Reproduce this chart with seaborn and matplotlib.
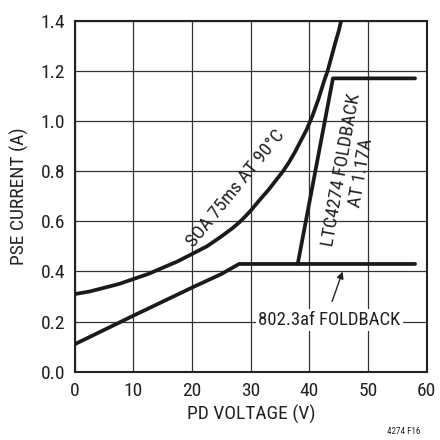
import matplotlib
matplotlib.use("Agg")
import matplotlib.pyplot as plt
import seaborn as sns
import pandas as pd

# ---- data ----
soa_v = [0, 2.5, 5, 7.5, 10, 12.5, 15, 17.5, 20, 22.5, 25, 27, 28, 29, 30, 31.5, 33, 34.5,
         35.5, 36.5, 37.5, 38.5, 39.5, 40.5, 41.5, 42.5, 43.1, 43.8, 44.5, 45.0, 45.4]
soa_i = [0.31, 0.32, 0.335, 0.35, 0.37, 0.39, 0.415, 0.44, 0.47, 0.50, 0.54, 0.575, 0.595,
         0.618, 0.643, 0.685, 0.725, 0.77, 0.80, 0.835, 0.875, 0.92, 0.965, 1.02, 1.085, 1.16,
         1.20, 1.26, 1.32, 1.36, 1.40]
af_v = [0, 5, 10, 15, 20, 25, 28, 58]
af_i = [0.11, 0.167, 0.224, 0.28, 0.336, 0.39, 0.43, 0.43]
ltc_v = [38, 44, 58]
ltc_i = [0.43, 1.17, 1.17]
x_ticks = [0, 10, 20, 30, 40, 50, 60]
y_ticks = [0.0, 0.2, 0.4, 0.6, 0.8, 1.0, 1.2, 1.4]

sns.set_theme(style="white")
plt.rcParams['font.family'] = ['Roboto Condensed', 'Archivo Narrow', 'DejaVu Sans']

fig = plt.figure(figsize=(4.4, 4.4), dpi=100)
ax = fig.add_axes([0.170, 0.155, 0.800, 0.798])

df_soa = pd.DataFrame({"v": soa_v, "i": soa_i})
df_af = pd.DataFrame({"v": af_v, "i": af_i})
df_ltc = pd.DataFrame({"v": ltc_v, "i": ltc_i})
for d in (df_soa, df_af, df_ltc):
    sns.lineplot(data=d, x="v", y="i", ax=ax, color="#1a1a1a", lw=2.7, sort=False, zorder=3)

ax.set_xlim(0, 60)
ax.set_ylim(0, 1.4)
ax.set_xticks(x_ticks)
ax.set_yticks(y_ticks)
ax.set_xticklabels([str(t) for t in x_ticks], fontsize=14)
ax.set_yticklabels([f"{t:.1f}" for t in y_ticks], fontsize=14)
ax.tick_params(length=0, pad=7, colors="#222222")
ax.grid(True, color="#333333", lw=0.9)
for s in ax.spines.values():
    s.set_color("#222222")
    s.set_linewidth(1.5)
ax.set_xlabel("PD VOLTAGE (V)", fontsize=14, color="#222222", labelpad=4)
ax.set_ylabel("PSE CURRENT (A)", fontsize=14, color="#222222", labelpad=8)

ax.text(27.4, 0.73, "SOA 75ms AT 90°C", rotation=51, ha="center", va="center",
        fontsize=13.8, color="#222222", rotation_mode="anchor")
ax.text(47.1, 0.80, "LTC4274 FOLDBACK\nAT 1.17A", rotation=80, ha="center", va="center",
        fontsize=13.8, color="#222222", rotation_mode="anchor", linespacing=1.1)
ax.text(43.4, 0.205, "802.3af FOLDBACK", ha="center", va="center", fontsize=13.5,
        color="#222222", bbox=dict(facecolor="white", edgecolor="none", pad=1.5), zorder=4)
ax.annotate("", xy=(45.8, 0.41), xytext=(43.7, 0.27),
            arrowprops=dict(arrowstyle="-|>", color="#222222", lw=1.0, mutation_scale=10))

fig.text(0.955, 0.008, "4274 F16", ha="right", va="bottom", fontsize=6.5, color="#222222")
fig.savefig("out.png", dpi=100)
